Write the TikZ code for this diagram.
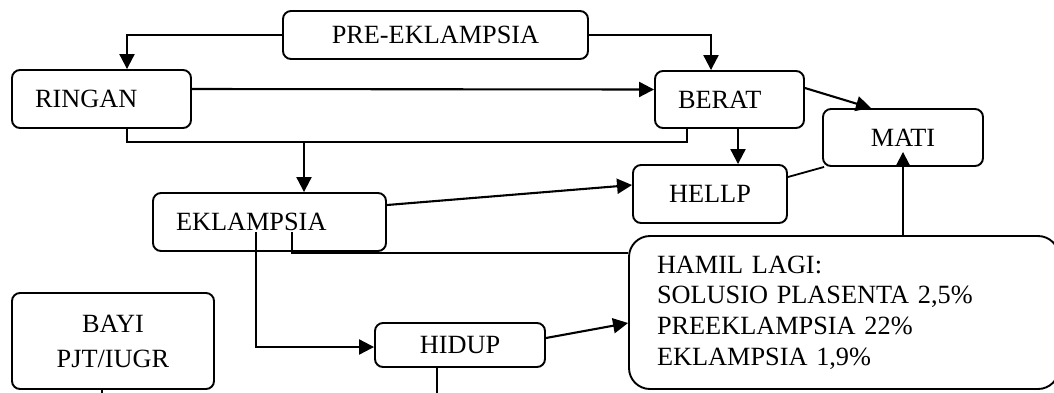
\documentclass[tikz,border=0pt]{standalone}
\usepackage{fontspec}
\setmainfont{Liberation Serif}
\usetikzlibrary{arrows.meta}

\begin{document}
\begin{tikzpicture}[
  x=1pt, y=-1pt,
  font=\fontsize{26.3}{30.7}\selectfont,
  >={Triangle[length=15pt,width=15pt]},
  box/.style={draw, line width=1.9pt, rounded corners=8pt, inner sep=0pt,
              align=center},
  lbox/.style={box, align=left, inner xsep=23pt},
  flow/.style={->, line width=2.1pt},
  link/.style={line width=1.8pt},
]
\clip (0,0) rectangle (1054,392);

% ============ boxes ============
\node[box, minimum width=305pt, minimum height=48pt] (pre) at (435.5,35) {PRE-EKLAMPSIA};
\node[lbox, text width=133pt, minimum height=58pt] (ringan) at (101.5,99) {RINGAN};
\node[lbox, text width=103pt, minimum height=57pt] (berat) at (729.5,99.5) {BERAT};
\node[box, minimum width=160pt, minimum height=57pt] (mati) at (903,137.5) {MATI};
\node[box, minimum width=154pt, minimum height=58pt] (hellp) at (710,194) {HELLP};
\node[lbox, text width=187pt, minimum height=58pt] (ekl) at (269.5,222) {EKLAMPSIA};
\node[box, minimum width=202pt, minimum height=96pt,
      font=\fontsize{26.3}{35}\selectfont] (bayi) at (113,341) {BAYI\\PJT/IUGR};
\node[box, minimum width=170pt, minimum height=44pt] (hidup) at (460,345) {HIDUP};
\node[lbox, rounded corners=21pt, inner xsep=28pt, text width=374pt,
      minimum height=153pt] (hamil) at (844,312.5)
  {HAMIL LAGI:\\SOLUSIO PLASENTA 2,5\%\\PREEKLAMPSIA 22\%\\EKLAMPSIA 1,9\%};

% ============ connectors ============
% ---- from PRE-EKLAMPSIA ----
\draw[flow] (pre.west) -| ([xshift=25.5pt]ringan.north);
\draw[flow] (pre.east) -| ([xshift=-18.5pt]berat.north);
\draw[flow] ([yshift=10pt]ringan.east) -- ([yshift=10pt]berat.west);

% ---- RINGAN / BERAT bracket -> EKLAMPSIA ----
\draw[link] ([xshift=25.5pt]ringan.south) -- ++(0,13) coordinate (brk)
  -| ([xshift=-42.5pt]berat.south);
\coordinate (eklin) at ([xshift=34.5pt]ekl.north);
\draw[flow] (eklin |- brk) -- (eklin);

% ---- BERAT ----
\draw[flow] ([xshift=8.5pt]berat.south) -- ([xshift=28pt]hellp.north);
\draw[flow] ([yshift=11.5pt]berat.east) -- ([xshift=-32pt]mati.north);
\draw[link] ([yshift=17pt]hellp.east) -- ([xshift=2pt]mati.south west);

% ---- EKLAMPSIA ----
\draw[flow] ([yshift=17pt]ekl.east) -- ([yshift=9pt]hellp.west);
\draw[link] ([xshift=22.5pt,yshift=-10pt]ekl.center) |- ([yshift=59.5pt]hamil.west);
\draw[flow] ([xshift=-13.5pt,yshift=-10pt]ekl.center) |- ([yshift=-2pt]hidup.west);

% ---- HIDUP / HAMIL LAGI ----
\draw[flow] ([yshift=7pt]hidup.east) -- ([yshift=-10.5pt]hamil.west);
\draw[flow] ([xshift=59pt]hamil.north) -- ([yshift=15pt]mati.south);

% free ends running off the page
\coordinate (hidupout) at ([xshift=-23pt,yshift=-40pt]hidup.south);
\coordinate (bayiout) at ([xshift=-11pt,yshift=-20pt]bayi.south);
\draw[link] ([xshift=-23pt]hidup.south) -- (hidupout);
\draw[link] ([xshift=-11pt]bayi.south) -- (bayiout);

\end{tikzpicture}
\end{document}
